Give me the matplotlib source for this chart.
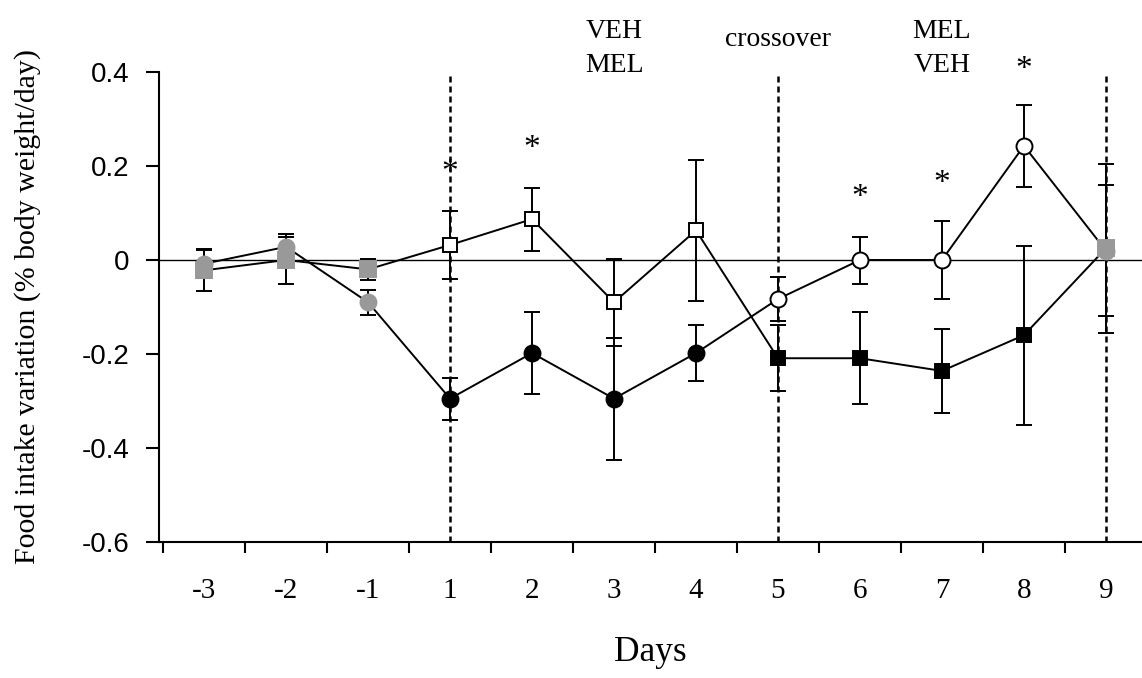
import matplotlib
matplotlib.use('Agg')
import matplotlib.pyplot as plt
from matplotlib.transforms import blended_transform_factory
from matplotlib.ticker import FixedLocator
import numpy as np

# ---------------- data ----------------
days = ['-3', '-2', '-1', '1', '2', '3', '4', '5', '6', '7', '8', '9']
circle_mean = [-0.008, 0.028, -0.090, -0.295, -0.198, -0.295, -0.198, -0.083, 0.000, 0.000, 0.243, 0.020]
circle_err = [0.030, 0.027, 0.027, 0.045, 0.088, 0.130, 0.060, 0.047, 0.050, 0.083, 0.087, 0.140]
square_mean = [-0.022, 0.000, -0.020, 0.032, 0.087, -0.090, 0.063, -0.209, -0.209, -0.236, -0.160, 0.025]
square_err = [0.045, 0.050, 0.022, 0.072, 0.067, 0.093, 0.150, 0.070, 0.098, 0.090, 0.190, 0.180]
star_days = ['1', '2', '6', '7', '8']
star_y = [0.198, 0.249, 0.145, 0.174, 0.417]
phase_days = ['1', '5', '9']
yticks = [-0.6, -0.4, -0.2, 0.0, 0.2, 0.4]
ytick_labels = ['-0.6', '-0.4', '-0.2', '0', '0.2', '0.4']
top_labels_day = ['3', '5', '7']
top_labels_text = [['VEH', 'MEL'], ['crossover'], ['MEL', 'VEH']]

# ---------------- styles ----------------
GRAY = '#999999'
circle_face = [GRAY] * 3 + ['black'] * 4 + ['white'] * 4 + [GRAY]
square_face = [GRAY] * 3 + ['white'] * 4 + ['black'] * 4 + [GRAY]

serif = ['Liberation Serif', 'DejaVu Serif']
sans = ['Liberation Sans', 'DejaVu Sans']

W, H = 1142, 678
fig = plt.figure(figsize=(W / 100, H / 100), dpi=100)
ax = fig.add_axes([159 / W, 136 / H, (W - 159) / W, 470 / H])

x = np.arange(len(days))
pos = {d: i for i, d in enumerate(days)}

# reference lines
ax.axhline(0, color='black', lw=1.0, zorder=1)
for d in phase_days:
    ax.axvline(pos[d], color='black', lw=1.8, linestyle=(0, (2.4, 1.6)), zorder=2)

# error bars
ax.errorbar(x, circle_mean, yerr=circle_err, fmt='none', ecolor='black',
            elinewidth=1.4, capsize=5.8, capthick=1.4, zorder=3)
ax.errorbar(x, square_mean, yerr=square_err, fmt='none', ecolor='black',
            elinewidth=1.4, capsize=5.8, capthick=1.4, zorder=3)

# connecting lines
ax.plot(x, circle_mean, color='black', lw=1.4, zorder=4)
ax.plot(x, square_mean, color='black', lw=1.4, zorder=4)

# markers
for i in range(len(days)):
    fc = circle_face[i]
    ec = GRAY if fc == GRAY else 'black'
    ax.plot(x[i], circle_mean[i], marker='o', ms=11.5, mfc=fc, mec=ec, mew=1.4,
            linestyle='none', zorder=5)
for i in range(len(days)):
    fc = square_face[i]
    ec = GRAY if fc == GRAY else 'black'
    ax.plot(x[i], square_mean[i], marker='s', ms=10.5 if fc != GRAY else 11.5,
            mfc=fc, mec=ec, mew=1.4, linestyle='none', zorder=6)

# asterisks
for d, yv in zip(star_days, star_y):
    ax.annotate('*', xy=(pos[d], yv), xytext=(0, -10), textcoords='offset points',
                ha='center', va='baseline', fontsize=24, family=serif,
                annotation_clip=False, zorder=7)

# top labels
trans = blended_transform_factory(ax.transData, fig.transFigure)
for d, lines in zip(top_labels_day, top_labels_text):
    if len(lines) == 2:
        ax.text(pos[d], 1 - 38 / H, lines[0], transform=trans, ha='center',
                va='baseline', fontsize=20, family=serif)
        ax.text(pos[d], 1 - 72 / H, lines[1], transform=trans, ha='center',
                va='baseline', fontsize=20, family=serif)
    else:
        ax.text(pos[d], 1 - 46 / H, lines[0], transform=trans, ha='center',
                va='baseline', fontsize=20, family=serif)

# axes
ax.set_xlim(-0.55, 11.44)
ax.set_ylim(-0.6, 0.4)
ax.spines['top'].set_visible(False)
ax.spines['right'].set_visible(False)
ax.spines['left'].set_linewidth(1.5)
ax.spines['bottom'].set_linewidth(1.5)

ax.set_xticks(x)
ax.set_xticklabels(days, family=serif, fontsize=21)
ax.xaxis.set_minor_locator(FixedLocator(np.arange(-0.5, 11, 1.0)))
ax.tick_params(axis='x', which='major', length=0, pad=26)
ax.tick_params(axis='x', which='minor', length=8, width=1.5, direction='out')

ax.set_yticks(yticks)
ax.set_yticklabels(ytick_labels, family=sans, fontsize=20)
ax.tick_params(axis='y', which='major', length=9.5, width=1.5, direction='out', pad=12)

ax.set_xlabel('Days', family=serif, fontsize=25.5)
ax.xaxis.set_label_coords(0.5, -0.2)
ax.set_ylabel('Food intake variation (% body weight/day)', family=serif, fontsize=21.5)
ax.yaxis.set_label_coords(-0.12, 0.5)

fig.savefig('out.png', dpi=100)
